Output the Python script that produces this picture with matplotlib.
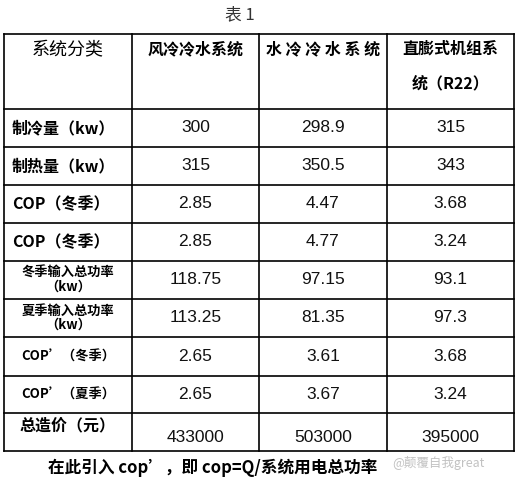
import matplotlib.pyplot as plt

plt.rcParams['font.family'] = ['Noto Sans CJK SC', 'DejaVu Sans']

headers = ["系统分类", "风冷冷水系统", "水 冷 冷 水 系 统", "直膨式机组系\n\n统（R22）"]
row_labels = ["制冷量（kw）", "制热量（kw）", "COP（冬季）", "COP（冬季）",
              "冬季输入总功率\n（kw）", "夏季输入总功率\n（kw）",
              "COP’（冬季）", "COP’（夏季）", "总造价（元）"]
air_cooled = ["300", "315", "2.85", "2.85", "118.75", "113.25", "2.65", "2.65", "433000"]
water_cooled = ["298.9", "350.5", "4.47", "4.77", "97.15", "81.35", "3.61", "3.67", "503000"]
direct_exp = ["315", "343", "3.68", "3.24", "93.1", "97.3", "3.68", "3.24", "395000"]

# table grid in pixel coordinates
col_x = [4, 132, 259, 387, 514]
row_y = [34, 109, 147, 185, 223, 261, 299, 337, 376, 413, 451]

fig = plt.figure(figsize=(5.25, 4.83), dpi=100)
ax = fig.add_axes([0, 0, 1, 1])
ax.set_xlim(0, 525)
ax.set_ylim(483, 0)
ax.axis('off')

for x in col_x:
    ax.plot([x, x], [row_y[0], row_y[-1]], color='black', lw=1.2)
for y in row_y:
    ax.plot([col_x[0], col_x[-1]], [y, y], color='black', lw=1.2)

ax.text(240, 15, "表 1", ha='center', va='center', fontsize=12, color='#333333')

# header row
for i, h in enumerate(headers):
    cx = (col_x[i] + col_x[i + 1]) / 2
    ax.text(cx, 41, h, ha='center', va='top', fontsize=13 if i == 0 else 11.5,
            fontweight='bold' if i else 'normal', linespacing=1.1)

columns = [air_cooled, water_cooled, direct_exp]
for r, label in enumerate(row_labels):
    top, bot = row_y[r + 1], row_y[r + 2]
    cy = (top + bot) / 2
    last = r == len(row_labels) - 1
    small = "\n" in label or "’" in label
    ly = top + 12 if last else cy
    ax.text((col_x[0] + col_x[1]) / 2 if small or last else col_x[0] + 8, ly, label,
            ha='center' if small or last else 'left', va='center',
            fontsize=9.5 if small else 11.5, fontweight='bold', linespacing=1.0)
    for c, vals in enumerate(columns):
        cx = (col_x[c + 1] + col_x[c + 2]) / 2
        ax.text(cx, cy + (5 if last else 0), vals[r], ha='center', va='center',
                fontsize=12.5, family=['Liberation Sans', 'DejaVu Sans'], color='#111111')

ax.text(48, 468, "在此引入 cop’，即 cop=Q/系统用电总功率", ha='left', va='center',
        fontsize=12, fontweight='bold')
ax.text(392, 463, "@颠覆自我great", ha='left', va='center', fontsize=9,
        color='#bbbbbb', alpha=0.9)

fig.savefig("out.png", dpi=100)
